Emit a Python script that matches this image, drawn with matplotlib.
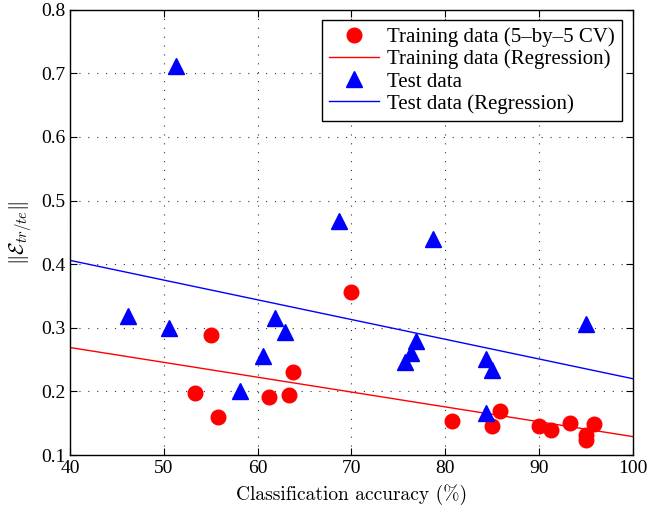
import numpy as np
import matplotlib
matplotlib.use("Agg")
import matplotlib.pyplot as plt

plt.rcParams['font.family'] = ['Liberation Serif', 'DejaVu Serif']
plt.rcParams['mathtext.fontset'] = 'cm'

# training data (5-by-5 CV)
train_acc = [70.0, 55.0, 63.75, 53.3, 61.2, 63.3, 55.8, 80.7, 85.8, 85.0,
             90.0, 91.3, 93.3, 95.9, 95.0, 95.0]
train_err = [0.356, 0.288, 0.231, 0.197, 0.192, 0.194, 0.160, 0.154, 0.170, 0.145,
             0.145, 0.139, 0.151, 0.148, 0.131, 0.123]

# test data
test_acc = [51.3, 68.7, 78.75, 46.2, 50.6, 61.9, 62.9, 60.6, 58.1,
            95.0, 76.9, 76.3, 75.7, 84.4, 85.0, 84.4]
test_err = [0.711, 0.468, 0.440, 0.319, 0.300, 0.315, 0.294, 0.255, 0.200,
            0.306, 0.280, 0.261, 0.247, 0.251, 0.233, 0.166]

# regression lines (end points)
fit_x = [40, 100]
train_fit = [0.269, 0.129]
test_fit = [0.406, 0.220]

fig = plt.figure(figsize=(6.49, 5.13), dpi=100)
ax = fig.add_axes([0.108, 0.113, 0.867, 0.868])

ax.plot(train_acc, train_err, 'o', color='red', markersize=10.5, label='Training data (5\u2013by\u20135 CV)')
ax.plot(fit_x, train_fit, '-', color='red', linewidth=1.0, label='Training data (Regression)')
ax.plot(test_acc, test_err, '^', color='blue', markersize=11, label='Test data')
ax.plot(fit_x, test_fit, '-', color='blue', linewidth=1.0, label='Test data (Regression)')

ax.set_xlim(40, 100)
ax.set_ylim(0.1, 0.8)
ax.set_xticks(np.arange(40, 101, 10))
ax.set_yticks(np.arange(0.1, 0.81, 0.1))
ax.set_yticklabels(['0.1', '0.2', '0.3', '0.4', '0.5', '0.6', '0.7', '0.8'])
ax.grid(True, linestyle=(0, (1, 7)), color='#333333', linewidth=0.8)
ax.tick_params(direction='in', top=True, right=True, labelsize=14, length=5)
for sp in ax.spines.values():
    sp.set_linewidth(1.0)

ax.set_xlabel('Classification accuracy (%)', fontsize=14, family='cmr10', labelpad=5)
ax.set_ylabel(r'$\Vert\mathcal{E}_{tr/te}\Vert$', fontsize=15, labelpad=4)

leg = ax.legend(loc='upper right', fontsize=15, frameon=True, fancybox=False,
                edgecolor='black', framealpha=1, borderaxespad=0.5,
                handlelength=2.4, handletextpad=0.4, labelspacing=0.12, borderpad=0.35)
leg.get_frame().set_linewidth(1.0)

fig.savefig('out.png', dpi=100)
